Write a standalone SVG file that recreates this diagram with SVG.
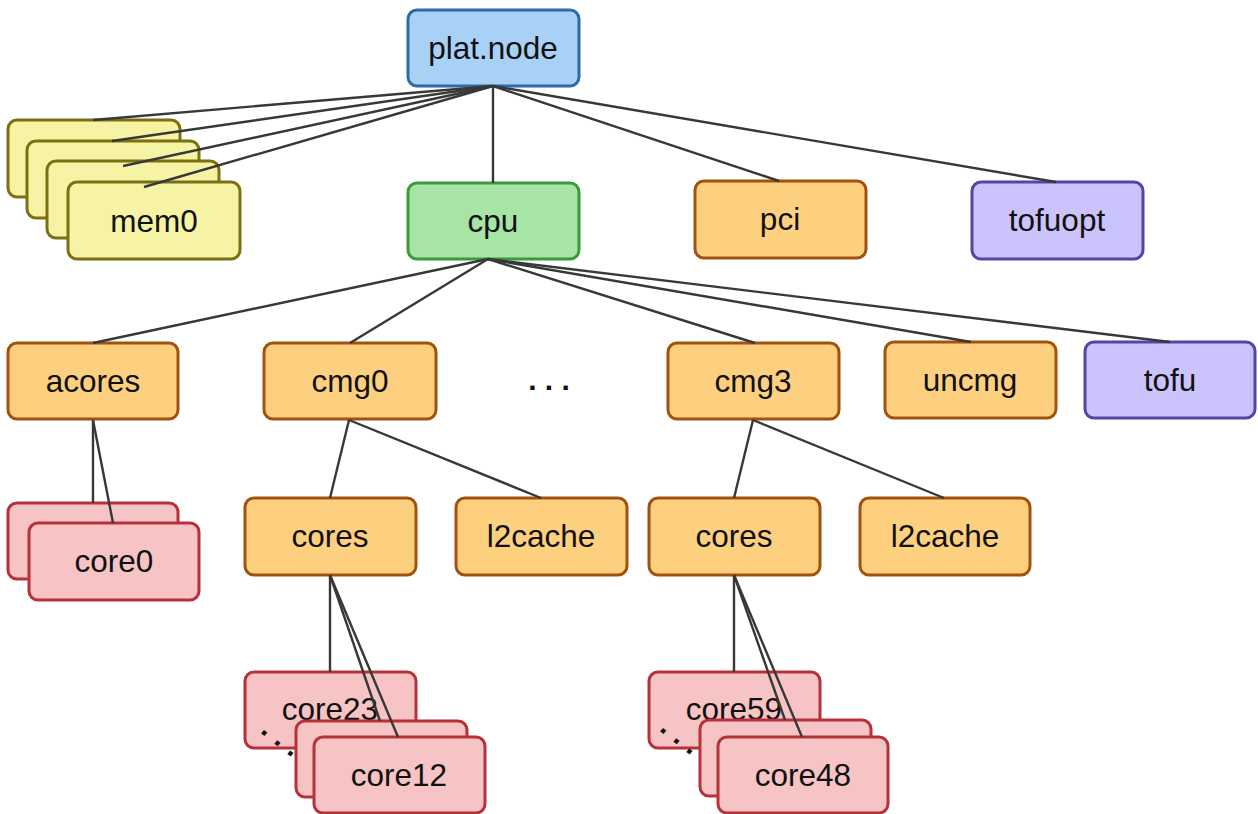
<svg xmlns="http://www.w3.org/2000/svg" width="1258" height="814" viewBox="0 0 1258 814">
  <style>
    rect { stroke-width: 3; }
    text { font-family: "Liberation Sans", Arial, sans-serif; font-size: 31.5px; fill: #111; text-anchor: middle; }
    .blue { fill: #a9d0f5; stroke: #2c6ba6; }
    .yellow { fill: #f6f3a4; stroke: #7b7012; }
    .green { fill: #a6e5a6; stroke: #3b9a3b; }
    .orange { fill: #fdd080; stroke: #a2520f; }
    .purple { fill: #cbc3fb; stroke: #5247a5; }
    .red { fill: #f6c4c4; stroke: #b7313b; }
    #connectors line { stroke: #383838; stroke-width: 2.4; }
    .dots { font-size: 30px; font-weight: bold; }
  </style>

  <!-- top level -->
  <g id="plat-node">
    <rect class="blue" x="408" y="10" width="171" height="76" rx="9"/>
    <text x="493" y="59">plat.node</text>
  </g>

  <!-- memory nodes, stacked -->
  <g id="mem-stack">
    <rect class="yellow" x="8" y="120" width="172" height="77" rx="9"/>
    <rect class="yellow" x="27" y="141" width="172" height="77" rx="9"/>
    <rect class="yellow" x="47" y="161" width="172" height="77" rx="9"/>
  </g>
  <g id="mem0">
    <rect class="yellow" x="68" y="182" width="172" height="77" rx="9"/>
    <text x="154" y="232">mem0</text>
  </g>

  <g id="cpu">
    <rect class="green" x="408" y="183" width="171" height="76" rx="9"/>
    <text x="493" y="232">cpu</text>
  </g>
  <g id="pci">
    <rect class="orange" x="695" y="181" width="171" height="77" rx="9"/>
    <text x="780" y="230">pci</text>
  </g>
  <g id="tofuopt">
    <rect class="purple" x="972" y="182" width="171" height="77" rx="9"/>
    <text x="1057" y="231">tofuopt</text>
  </g>

  <!-- cpu children -->
  <g id="acores">
    <rect class="orange" x="8" y="343" width="170" height="76" rx="9"/>
    <text x="93" y="392">acores</text>
  </g>
  <g id="cmg0">
    <rect class="orange" x="264" y="343" width="172" height="76" rx="9"/>
    <text x="350" y="392">cmg0</text>
  </g>
  <g id="ellipsis">
    <text class="dots" x="549" y="390">. . .</text>
  </g>
  <g id="cmg3">
    <rect class="orange" x="668" y="343" width="171" height="76" rx="9"/>
    <text x="753" y="392">cmg3</text>
  </g>
  <g id="uncmg">
    <rect class="orange" x="885" y="342" width="171" height="76" rx="9"/>
    <text x="970" y="391">uncmg</text>
  </g>
  <g id="tofu">
    <rect class="purple" x="1085" y="342" width="170" height="76" rx="9"/>
    <text x="1170" y="391">tofu</text>
  </g>

  <!-- acores children -->
  <g id="core0">
    <rect class="red" x="8" y="503" width="170" height="76" rx="9"/>
    <rect class="red" x="29" y="523" width="170" height="77" rx="9"/>
    <text x="114" y="572">core0</text>
  </g>

  <!-- cmg0 children -->
  <g id="cmg0-cores">
    <rect class="orange" x="245" y="498" width="171" height="77" rx="9"/>
    <text x="330" y="547">cores</text>
  </g>
  <g id="cmg0-l2cache">
    <rect class="orange" x="456" y="498" width="171" height="77" rx="9"/>
    <text x="541" y="547">l2cache</text>
  </g>

  <!-- cmg3 children -->
  <g id="cmg3-cores">
    <rect class="orange" x="649" y="498" width="171" height="77" rx="9"/>
    <text x="734" y="547">cores</text>
  </g>
  <g id="cmg3-l2cache">
    <rect class="orange" x="860" y="498" width="170" height="77" rx="9"/>
    <text x="945" y="547">l2cache</text>
  </g>

  <!-- cmg0 core range -->
  <g id="core23-12">
    <rect class="red" x="245" y="672" width="171" height="76" rx="9"/>
    <text x="330" y="720">core23</text>
    <text class="dots" x="0" y="0" transform="translate(276 745) rotate(38)">. . .</text>
    <rect class="red" x="296" y="721" width="171" height="76" rx="9"/>
    <rect class="red" x="314" y="737" width="171" height="76" rx="9"/>
    <text x="399" y="786">core12</text>
  </g>

  <!-- cmg3 core range -->
  <g id="core59-48">
    <rect class="red" x="649" y="672" width="171" height="76" rx="9"/>
    <text x="734" y="720">core59</text>
    <text class="dots" x="0" y="0" transform="translate(675 743) rotate(38)">. . .</text>
    <rect class="red" x="700" y="720" width="171" height="76" rx="9"/>
    <rect class="red" x="718" y="737" width="170" height="76" rx="9"/>
    <text x="803" y="786">core48</text>
  </g>

  <g id="connectors">
    <!-- plat.node -->
    <line x1="493" y1="86" x2="93" y2="120"/>
    <line x1="493" y1="86" x2="112" y2="141"/>
    <line x1="493" y1="86" x2="123" y2="166"/>
    <line x1="493" y1="86" x2="144" y2="187"/>
    <line x1="493" y1="86" x2="493" y2="183"/>
    <line x1="493" y1="86" x2="779" y2="181"/>
    <line x1="493" y1="86" x2="1056" y2="182"/>
    <!-- cpu -->
    <line x1="488" y1="259" x2="93" y2="343"/>
    <line x1="488" y1="259" x2="350" y2="343"/>
    <line x1="488" y1="259" x2="755" y2="343"/>
    <line x1="488" y1="259" x2="971" y2="342"/>
    <line x1="488" y1="259" x2="1170" y2="342"/>
    <!-- acores -->
    <line x1="93" y1="420" x2="93" y2="503"/>
    <line x1="93" y1="420" x2="113" y2="523"/>
    <!-- cmg0 -->
    <line x1="349" y1="420" x2="330" y2="498"/>
    <line x1="349" y1="420" x2="541" y2="498"/>
    <!-- cmg3 -->
    <line x1="753" y1="420" x2="734" y2="498"/>
    <line x1="753" y1="420" x2="944" y2="498"/>
    <!-- cores (cmg0) -->
    <line x1="330" y1="575" x2="330" y2="672"/>
    <line x1="330" y1="575" x2="380" y2="721"/>
    <line x1="330" y1="575" x2="398" y2="737"/>
    <!-- cores (cmg3) -->
    <line x1="734" y1="575" x2="734" y2="672"/>
    <line x1="734" y1="575" x2="785" y2="720"/>
    <line x1="734" y1="575" x2="802" y2="737"/>
  </g>
</svg>
